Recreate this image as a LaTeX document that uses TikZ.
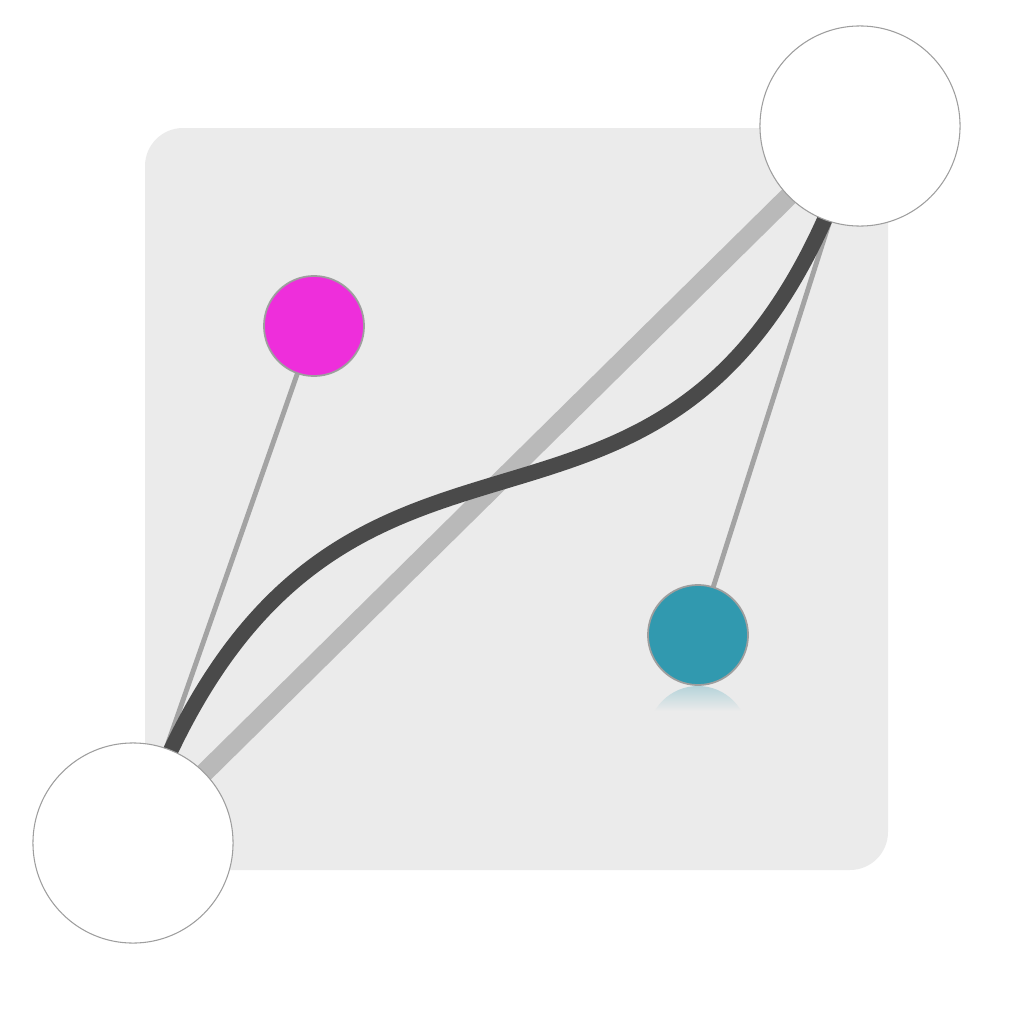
\documentclass[tikz,border=0pt]{standalone}
\usetikzlibrary{backgrounds,calc}
\definecolor{panelgray}{HTML}{EBEBEB}
\definecolor{chordgray}{HTML}{B9B9B9}
\definecolor{curvegray}{HTML}{4A4A4A}
\definecolor{leggray}{HTML}{A3A3A3}
\definecolor{rimgray}{HTML}{9E9E9E}
\definecolor{knobpink}{HTML}{EE2EDB}
\definecolor{knobteal}{HTML}{3199AF}
\begin{document}
\begin{tikzpicture}[
      x=0.01cm, y=-0.01cm,
      anchorpt/.style={circle, draw=rimgray, line width=0.3pt, fill=white, minimum size=2cm, inner sep=0pt},
      handle/.style={circle, draw=rimgray, line width=0.5pt, minimum size=1cm, inner sep=0pt},
      chord/.style={draw=chordgray, line width=5.4pt},
      leg/.style={draw=leggray, line width=1.4pt},
      bezier/.style={draw=curvegray, line width=4.4pt}
    ]
      \useasboundingbox (0,0) rectangle (1024,1024);
      \node[anchorpt] (start) at (133,843) {};
      \node[anchorpt] (finish) at (860,126) {};
      \node[handle, fill=knobpink] (ctrla) at (314,326) {};
      \node[handle, fill=knobteal] (ctrlb) at (698,635) {};

      \begin{pgfonlayer}{background}
        \fill[panelgray, rounded corners=0.38cm] (145,128) rectangle (888,870);
        \begin{scope}
          \clip (698,736) circle (50);
          \shade[top color=knobteal!30!panelgray, bottom color=panelgray] (640,685) rectangle (756,711);
        \end{scope}
        \draw[chord] (start.center) -- (finish.center);
        \draw[leg] (start.center) -- (ctrla.center);
        \draw[leg] (finish.center) -- (ctrlb.center);
        \draw[bezier] (start.center) .. controls ($(start.center)!1.08!(ctrla.center)$)
          and ($(finish.center)!1.08!(ctrlb.center)$) .. (finish.center);
      \end{pgfonlayer}
    \end{tikzpicture}
\end{document}
